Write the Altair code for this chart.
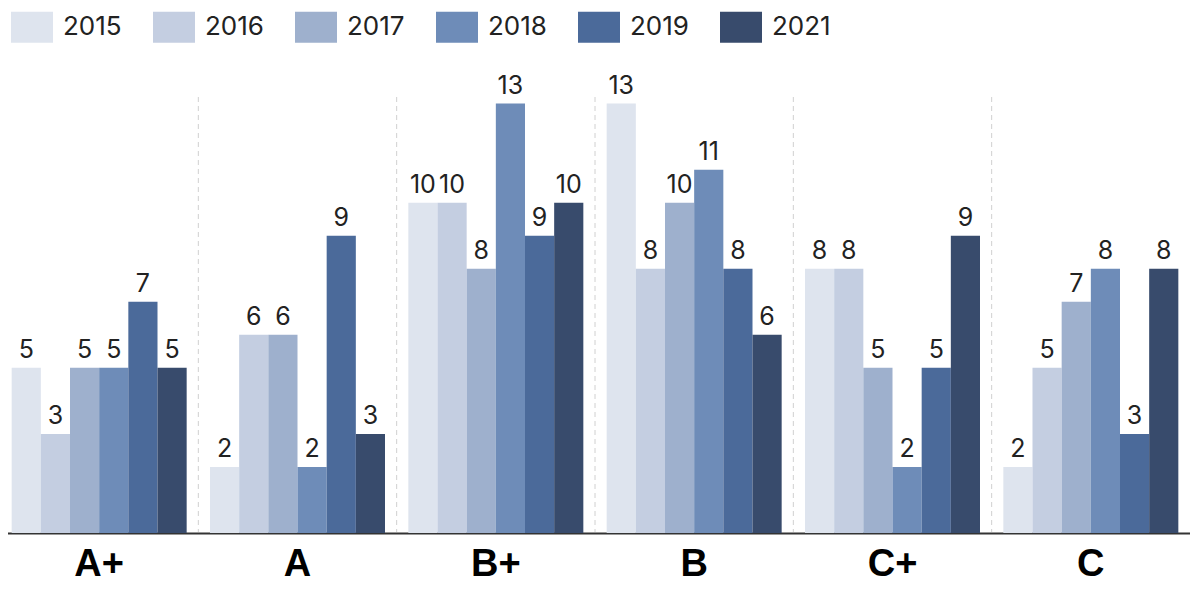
import altair as alt
import pandas as pd

grades = ["A+", "A", "B+", "B", "C+", "C"]
years = ["2015", "2016", "2017", "2018", "2019", "2021"]
values = {
    "A+": [5, 3, 5, 5, 7, 5],
    "A":  [2, 6, 6, 2, 9, 3],
    "B+": [10, 10, 8, 13, 9, 10],
    "B":  [13, 8, 10, 11, 8, 6],
    "C+": [8, 8, 5, 2, 5, 9],
    "C":  [2, 5, 7, 8, 3, 8],
}
colors = ["#dee4ee", "#c4cee1", "#9eb0cd", "#6e8cb8", "#4b6a9a", "#384b6c"]
# group boundaries (between grade groups) on a 0..6 group index scale
boundaries = [1, 2, 3, 4, 5]

rows = []
for g in grades:
    for y, v in zip(years, values[g]):
        rows.append({"grade": g, "year": y, "value": v})
df = pd.DataFrame(rows)
sep_df = pd.DataFrame({"pos": boundaries})

W, H = 1190, 436

xscale = alt.Scale(domain=grades, paddingInner=0, paddingOuter=0)
xoff = alt.XOffset("year:N", sort=years, scale=alt.Scale(paddingOuter=0.4, paddingInner=0))

base = alt.Chart(df)

bars = base.mark_bar().encode(
    x=alt.X("grade:N", sort=grades, scale=xscale,
            axis=alt.Axis(title=None, labelAngle=0, labelFontSize=38, labelFontWeight="bold",
                          labelFont="Liberation Sans", labelColor="#000", labelPadding=12,
                          labelAlign="center", labelBaseline="top",
                          ticks=False, domainColor="#333", domainWidth=2, grid=False)),
    xOffset=xoff,
    y=alt.Y("value:Q", scale=alt.Scale(domain=[0, 13.2], nice=False), axis=None),
    color=alt.Color("year:N", sort=years, scale=alt.Scale(domain=years, range=colors),
                    legend=alt.Legend(title=None, orient="none", legendX=11, legendY=-91,
                                      direction="horizontal",
                                      symbolType="M-1,-0.738H1V0.738H-1Z", symbolSize=1764,
                                      symbolStrokeWidth=0, symbolOpacity=1,
                                      labelFont="Inter", labelFontSize=26, labelColor="#222",
                                      labelOffset=10, columnPadding=31)),
)

labels = base.mark_text(baseline="alphabetic", dy=-10, font="Inter", fontSize=25,
                        color="#222").encode(
    x=alt.X("grade:N", sort=grades, scale=xscale),
    xOffset=xoff,
    y=alt.Y("value:Q"),
    text="value:Q",
)

seps = alt.Chart(sep_df).mark_rule(color="#d0d0d0", strokeDash=[5, 4], strokeWidth=1).encode(
    x=alt.X("pos:Q", scale=alt.Scale(domain=[0, len(grades)], nice=False, zero=False), axis=None),
    y=alt.value(0),
    y2=alt.value(H - 1),
)

chart = alt.layer(seps, alt.layer(bars, labels)).resolve_scale(x="independent").properties(
    width=W, height=H,
    autosize=alt.AutoSizeParams(type="none"),
    padding={"left": -8, "top": 89, "right": 0, "bottom": 56},
).configure_view(stroke=None)

chart.save("out.html", embed_options={"renderer": "svg", "actions": False})
